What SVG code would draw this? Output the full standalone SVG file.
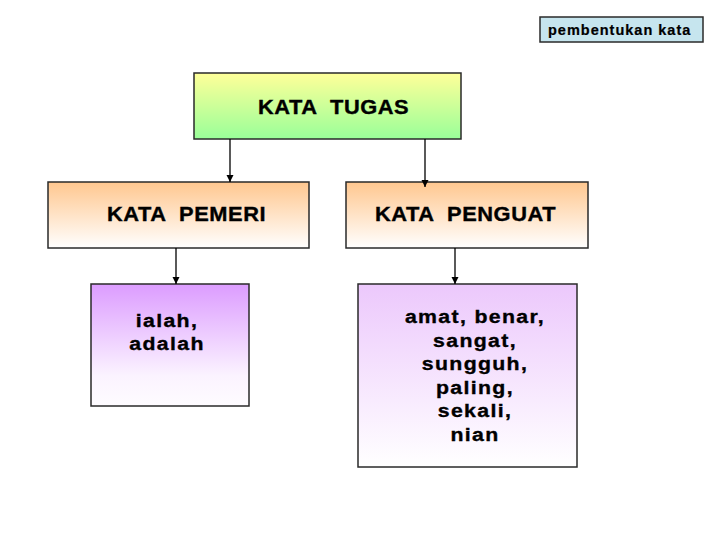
<svg xmlns="http://www.w3.org/2000/svg" width="728" height="546" viewBox="0 0 728 546">
<defs>
<linearGradient id="gTugas" x1="0" y1="0" x2="0" y2="1">
<stop offset="0" stop-color="#ffff99"/>
<stop offset="1" stop-color="#99ff99"/>
</linearGradient>
<linearGradient id="gOrange" x1="0" y1="0" x2="0" y2="1">
<stop offset="0" stop-color="#ffc78f"/>
<stop offset="1" stop-color="#ffffff"/>
</linearGradient>
<linearGradient id="gPurple" x1="0" y1="0" x2="0" y2="1">
<stop offset="0" stop-color="#dc9cff"/>
<stop offset="0.75" stop-color="#fbf3ff"/>
<stop offset="1" stop-color="#fefcff"/>
</linearGradient>
<linearGradient id="gLavender" x1="0" y1="0" x2="0" y2="1">
<stop offset="0" stop-color="#ecc8fc"/>
<stop offset="1" stop-color="#ffffff"/>
</linearGradient>
<marker id="arrow" markerWidth="8" markerHeight="8" refX="7" refY="4" orient="auto" markerUnits="userSpaceOnUse">
<path d="M0,0.5 L7,4 L0,7.5 Z" fill="#000"/>
</marker>
</defs>
<style>
.box{stroke:#2a2a2a;stroke-width:1.5}
.t{font-family:"Liberation Sans",Arial,sans-serif;font-weight:bold;fill:#000;stroke:#000;stroke-width:0.35;white-space:pre}
.big{font-size:19.5px;letter-spacing:0.5px}
.mid{font-size:19px;letter-spacing:1.2px;text-anchor:middle}
.small{font-size:14.5px;letter-spacing:1px;stroke-width:0.2}
.conn{stroke:#000;stroke-width:1.3;fill:none}
</style>
<g id="label-pembentukan">
<rect class="box" x="540" y="17" width="163" height="25" fill="#c6e5ee"/>
<text class="t small" x="548" y="35">pembentukan kata</text>
</g>
<g id="node-tugas">
<rect class="box" x="194" y="73" width="267" height="66" fill="url(#gTugas)"/>
<text class="t big" transform="translate(258,114) scale(1.12,1)" xml:space="preserve">KATA  TUGAS</text>
</g>
<g id="node-pemeri">
<rect class="box" x="48" y="182" width="261" height="66" fill="url(#gOrange)"/>
<text class="t big" transform="translate(107,221) scale(1.12,1)" xml:space="preserve">KATA  PEMERI</text>
</g>
<g id="node-penguat">
<rect class="box" x="346" y="182" width="242" height="66" fill="url(#gOrange)"/>
<text class="t big" transform="translate(375,221) scale(1.12,1)" xml:space="preserve">KATA  PENGUAT</text>
</g>
<g id="node-ialah">
<rect class="box" x="91" y="284" width="158" height="122" fill="url(#gPurple)"/>
<text class="t mid" transform="translate(167,327) scale(1.12,1)">ialah,</text>
<text class="t mid" transform="translate(167,350) scale(1.12,1)">adalah</text>
</g>
<g id="node-amat">
<rect class="box" x="358" y="284" width="219" height="183" fill="url(#gLavender)"/>
<text class="t mid" transform="translate(475,323) scale(1.12,1)">amat, benar,</text>
<text class="t mid" transform="translate(475,346.5) scale(1.12,1)">sangat,</text>
<text class="t mid" transform="translate(475,370) scale(1.12,1)">sungguh,</text>
<text class="t mid" transform="translate(475,393.5) scale(1.12,1)">paling,</text>
<text class="t mid" transform="translate(475,417) scale(1.12,1)">sekali,</text>
<text class="t mid" transform="translate(475,440.5) scale(1.12,1)">nian</text>
</g>
<g id="connectors">
<line class="conn" x1="230" y1="139" x2="230" y2="182" marker-end="url(#arrow)"/>
<line class="conn" x1="425" y1="139" x2="425" y2="187" marker-end="url(#arrow)"/>
<line class="conn" x1="176" y1="248" x2="176" y2="284" marker-end="url(#arrow)"/>
<line class="conn" x1="455" y1="248" x2="455" y2="284" marker-end="url(#arrow)"/>
</g>
</svg>
